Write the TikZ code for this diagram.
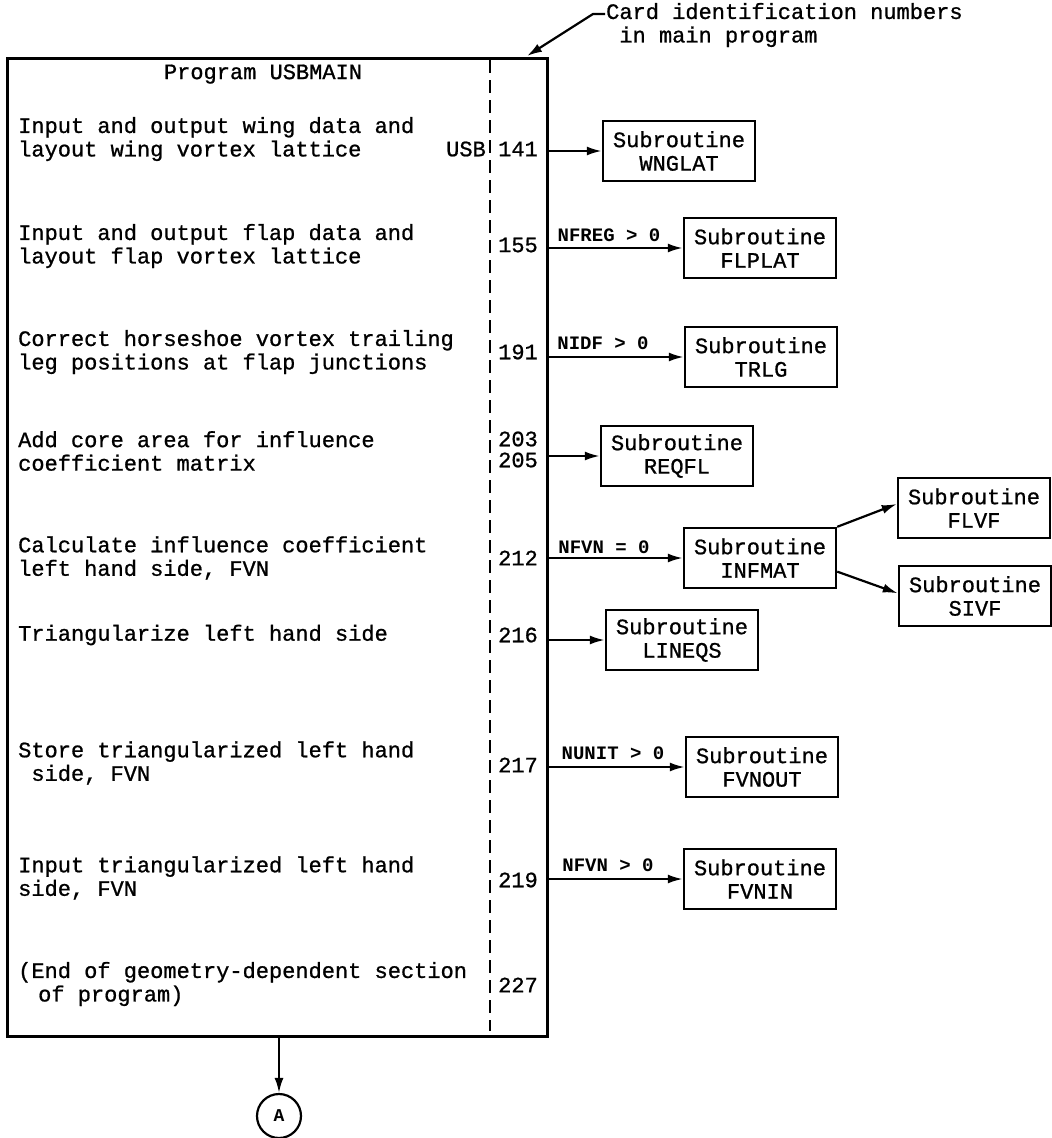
\documentclass[tikz,border=0pt]{standalone}
\usepackage{fontspec}
\setmonofont[FakeBold=0.9]{Liberation Mono}
\newfontfamily\labfont{Liberation Mono Bold}
\usetikzlibrary{arrows.meta}
\begin{document}
\begin{tikzpicture}[x=1pt,y=-1pt,
  every node/.style={font=\ttfamily\fontsize{22}{23.5}\selectfont, inner sep=0pt},
  txt/.style={anchor=west, align=left},
  num/.style={anchor=east},
  sub/.style={draw, line width=2.4pt, minimum width=152, minimum height=60, align=center},
  lab/.style={font=\labfont\fontsize{19}{20}\selectfont},
  arr/.style={-{Latex[length=15pt,width=9pt]}, line width=2.2pt},
  dashline/.style={line width=2.2pt, dash pattern=on 13pt off 7pt}
  ]
\fill[white] (0,0) rectangle (1052,1138);
\useasboundingbox (0,0) rectangle (1052,1138);

% main program box
\node[draw, line width=2.8pt, minimum width=540, minimum height=978, anchor=north west] (main) at (6,57) {};
\draw[dashline] (490,60) -- (490,1031);
\node (title) at (263,74) {Program USBMAIN};

% left descriptions
\node[txt] (d1) at (18,139) {Input and output wing data and\\layout wing vortex lattice};
\node[txt] (d2) at (18,246) {Input and output flap data and\\layout flap vortex lattice};
\node[txt] (d3) at (18,352) {Correct horseshoe vortex trailing\\leg positions at flap junctions};
\node[txt] (d4) at (18,451) {Add core area for influence\\coefficient matrix};
\node[txt] (d5) at (18,558) {Calculate influence coefficient\\left hand side, FVN};
\node[txt] (d6) at (18,635) {Triangularize left hand side};
\node[txt] (d7) at (18,763) {Store triangularized left hand\\\ side, FVN};
\node[txt] (d8) at (18,878) {Input triangularized left hand\\side, FVN};
\node[txt] (d9) at (18,984) {(End of geometry-dependent section\\\hspace*{20pt}of program)};

% card numbers
\node[num] (usb) at (486,149) {USB};
\node[num] (n141) at (538,149) {141};
\node[num] (n155) at (538,245) {155};
\node[num] (n191) at (538,352) {191};
\node[num] (n203) at (538,439) {203};
\node[num] (n205) at (538,460) {205};
\node[num] (n212) at (538,558) {212};
\node[num] (n216) at (538,635) {216};
\node[num] (n217) at (538,765) {217};
\node[num] (n219) at (538,880) {219};
\node[num] (n227) at (538,985) {227};

% subroutine boxes
\node[sub] (wng) at (679,151) {Subroutine\\WNGLAT};
\node[sub] (flp) at (760,248) {Subroutine\\FLPLAT};
\node[sub] (trlg) at (761,357) {Subroutine\\TRLG};
\node[sub] (reqfl) at (677,456) {Subroutine\\REQFL};
\node[sub] (infmat) at (760,558) {Subroutine\\INFMAT};
\node[sub] (flvf) at (974,508) {Subroutine\\FLVF};
\node[sub] (sivf) at (975,596) {Subroutine\\SIVF};
\node[sub] (lineqs) at (682,640) {Subroutine\\LINEQS};
\node[sub] (fvnout) at (762,767) {Subroutine\\FVNOUT};
\node[sub] (fvnin) at (760,879) {Subroutine\\FVNIN};

% connectors
\draw[arr] (main.east |- wng.west) -- (wng.west);
\draw[arr] (main.east |- flp.west) -- (flp.west);
\draw[arr] (main.east |- trlg.west) -- (trlg.west);
\draw[arr] (main.east |- reqfl.west) -- (reqfl.west);
\draw[arr] (main.east |- infmat.west) -- (infmat.west);
\draw[arr] (main.east |- lineqs.west) -- (lineqs.west);
\draw[arr] (main.east |- fvnout.west) -- (fvnout.west);
\draw[arr] (main.east |- fvnin.west) -- (fvnin.west);
\draw[arr] (infmat.north east) -- (flvf.177);
\draw[arr] (infmat.-10) -- (sivf.178);

% conditions
\node[lab] (c155) at (609,235) {NFREG > 0};
\node[lab] (c191) at (603,343) {NIDF > 0};
\node[lab] (c212) at (604,547) {NFVN = 0};
\node[lab] (c217) at (613,753) {NUNIT > 0};
\node[lab] (c219) at (608,865) {NFVN > 0};

% card identification label
\node[txt] (card) at (606,25) {Card identification numbers\\\ in main program};
\coordinate (tickr) at (605,14);
\coordinate (tickl) at (593,14);
\coordinate (cardpt) at (527,56);
\draw[arr] (tickr) -- (tickl) -- (cardpt);

% connector A
\node[draw, circle, line width=2.2pt, minimum size=44, font=\labfont\fontsize{18}{18}\selectfont] (A) at (279,1116) {A};
\draw[arr] (A.north |- main.south) -- (A.north);
\end{tikzpicture}
\end{document}
